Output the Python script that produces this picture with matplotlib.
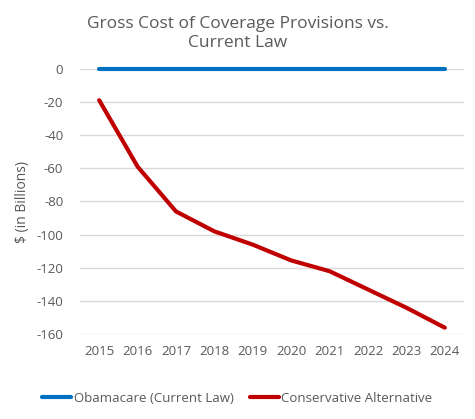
import matplotlib
matplotlib.use("Agg")
import matplotlib.pyplot as plt

years = ["2015", "2016", "2017", "2018", "2019", "2020", "2021", "2022", "2023", "2024"]
obamacare = [0, 0, 0, 0, 0, 0, 0, 0, 0, 0]
conservative = [-19, -59, -86, -98, -106, -115.5, -122, -133, -144, -156]
yticks = [0, -20, -40, -60, -80, -100, -120, -140, -160]

plt.rcParams['font.family'] = ['Open Sans', 'DejaVu Sans']

fig = plt.figure(figsize=(4.75, 4.19), dpi=100)
ax = fig.add_axes([80/475, 1-334.3/419, (464-80)/475, (334.3-68.7)/419])

x = list(range(len(years)))
ax.plot(x, obamacare, color='#0070C0', lw=3, solid_capstyle='round', clip_on=False, zorder=3,
        label='Obamacare (Current Law)')
ax.plot(x, conservative, color='#C00000', lw=3, solid_capstyle='round', clip_on=False, zorder=3,
        label='Conservative Alternative')

ax.set_xlim(-0.5, len(years) - 0.5)
ax.set_ylim(-160, 0)
ax.set_yticks(yticks)
ax.set_yticklabels([str(v) for v in yticks])
ax.set_xticks(x)
ax.set_xticklabels(years)
ax.grid(axis='y', color='#D9D9D9', lw=1)
ax.set_axisbelow(True)
for s in ax.spines.values():
    s.set_visible(False)
ax.tick_params(length=0, labelsize=9.5, colors='#595959', pad=8)
ax.tick_params(axis='y', pad=12)

ax.set_ylabel('$ (in Billions)', fontsize=10, color='#595959', labelpad=5)
fig.text(0.5, 0.92, 'Gross Cost of Coverage Provisions vs.\nCurrent Law', ha='center', va='center',
         fontsize=12.5, color='#595959', linespacing=1.3)

leg = fig.legend(loc='center', bbox_to_anchor=(0.50, 0.05), ncol=2, frameon=False,
                 fontsize=9.5, handlelength=2.2, handletextpad=0.2, columnspacing=1.2,
                 labelcolor='#595959')

fig.savefig('out.png', dpi=100)
